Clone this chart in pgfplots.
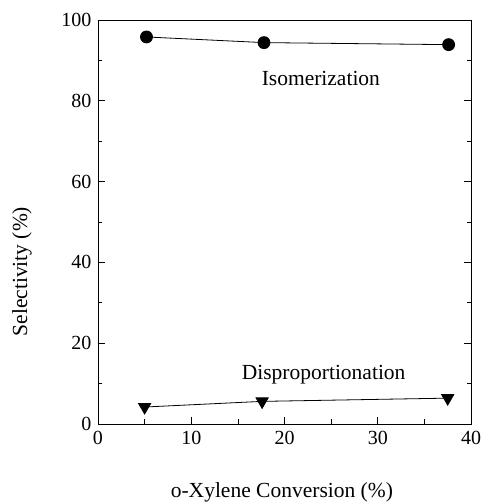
\documentclass[border=0pt]{standalone}
\usepackage{pgfplots}
\pgfplotsset{compat=1.18}
\usepackage{fontspec}
\setmainfont{Liberation Serif}

\begin{document}
\begin{tikzpicture}
\begin{axis}[
  scale only axis,
  width=373pt, height=404pt,
  at={(0,0)}, anchor=south west,
  xmin=0, xmax=40, ymin=0, ymax=100,
  xtick={0,10,20,30,40},
  ytick={0,20,40,60,80,100},
  minor x tick num=1,
  minor y tick num=1,
  tick align=inside,
  xtick pos=bottom,
  ytick pos=both,
  major tick length=7pt,
  minor tick length=4.5pt,
  tick style={black, line width=0.7pt},
  axis line style={line width=0.8pt},
  /pgf/number format/assume math mode=true,
  ticklabel style={font=\fontsize{20}{23}\selectfont},
  xticklabel style={yshift=-4pt},
  yticklabel style={xshift=-3pt},
  xlabel={o-Xylene Conversion (\%)},
  ylabel={Selectivity (\%)},
  label style={font=\fontsize{21.5}{25}\selectfont},
  xlabel style={at={(rel axis cs:0.493,-0.1683)}, anchor=center},
  ylabel style={at={(rel axis cs:-0.2038,0.377)}, anchor=center},
  clip=false,
]
% isomerization selectivity
\addplot[black, line width=0.8pt, mark=*, mark size=6pt,
  mark options={fill=black}]
  coordinates {(5.2,95.8) (17.8,94.4) (37.6,93.9)};
% disproportionation selectivity
\addplot[black, line width=0.8pt, mark=triangle*, mark size=7pt,
  mark options={fill=black, rotate=180}]
  coordinates {(5.0,4.2) (17.6,5.6) (37.5,6.4)};

\node[font=\fontsize{21.5}{25}\selectfont] at (axis cs:23.9,85.4) {Isomerization};
\node[font=\fontsize{21.5}{25}\selectfont] at (axis cs:24.2,12.1) {Disproportionation};
\end{axis}
\pgfresetboundingbox
\path[use as bounding box] (-98pt,-78pt) rectangle (383pt,424pt);
\end{tikzpicture}
\end{document}
